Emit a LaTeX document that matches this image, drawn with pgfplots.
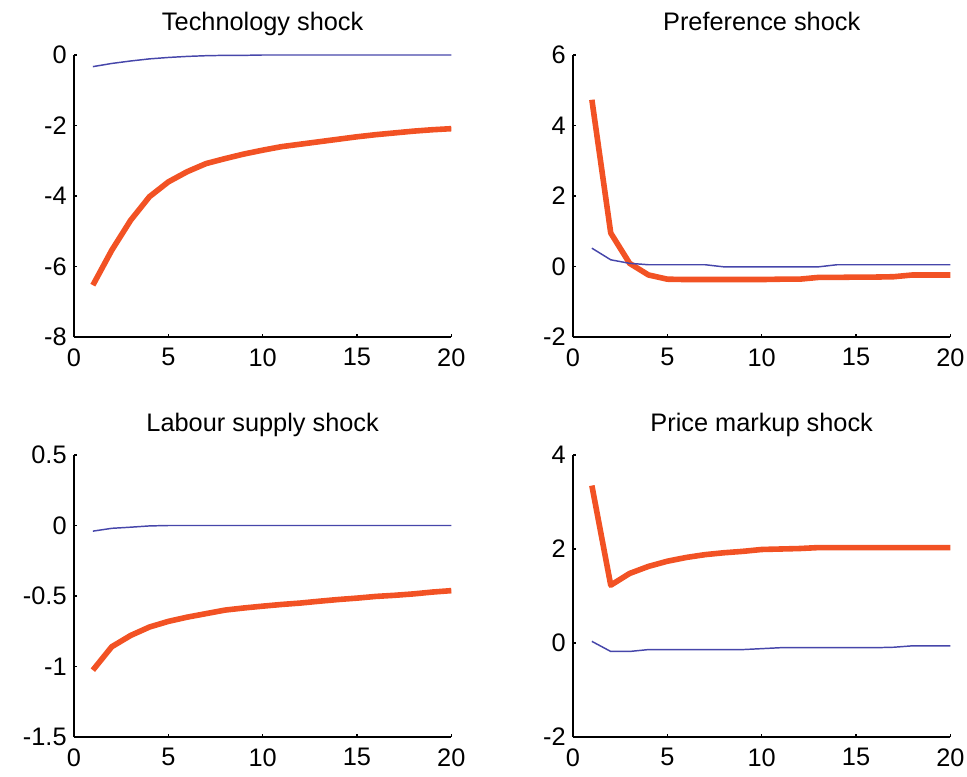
\documentclass[border=0pt]{standalone}
\usepackage{pgfplots}
\pgfplotsset{compat=1.18}
\usepackage{fontspec}
\setmainfont{Liberation Sans}
\definecolor{irfred}{RGB}{242,82,36}
\definecolor{irfblue}{RGB}{70,70,170}
\begin{document}
\begin{tikzpicture}
\useasboundingbox (0,0) rectangle (725.25pt,582pt);
\pgfplotsset{
  irf/.style={
    scale only axis, width=283pt, height=211.5pt, anchor=south west,
    xmin=0, xmax=20, xtick={0,5,10,15,20}, xticklabels={0,5,10,15,20},
    axis x line*=bottom, axis y line*=left,
    axis line style={line width=1.1pt,-},
    tick style={line width=0.9pt,black}, major tick length=2.5pt, tick align=inside,
    ticklabel style={font=\fontsize{19}{22}\selectfont},
    xticklabel style={yshift=-5pt},
    yticklabel style={xshift=-2pt},
    title style={font=\fontsize{19}{22}\selectfont, at={(0.5,1)}, anchor=base, yshift=12pt},
    clip=false,
  },
  red/.style={irfred, line width=4.2pt, line join=round},
  blue/.style={irfblue, line width=1.1pt},
}
% Technology shock
\begin{axis}[irf, at={(55.5pt,329.25pt)}, title={Technology shock},
  ymin=-8, ymax=0, ytick={-8,-6,-4,-2,0}, yticklabels={-8,-6,-4,-2,0}]
\addplot[red] coordinates {(1,-6.53) (2,-5.54) (3,-4.69) (4,-4.02) (5,-3.60) (6,-3.31) (7,-3.08) (8,-2.94) (9,-2.81) (10,-2.70) (11,-2.60) (12,-2.53) (13,-2.46) (14,-2.39) (15,-2.32) (16,-2.26) (17,-2.21) (18,-2.16) (19,-2.12) (20,-2.09)};
\addplot[blue] coordinates {(1,-0.33) (2,-0.24) (3,-0.17) (4,-0.11) (5,-0.07) (6,-0.04) (7,-0.02) (8,-0.01) (9,-0.01) (10,0) (11,0) (12,0) (13,0) (14,0) (15,0) (16,0) (17,0) (18,0) (19,0) (20,0)};
\end{axis}
% Preference shock
\begin{axis}[irf, at={(429.75pt,329.25pt)}, title={Preference shock},
  ymin=-2, ymax=6, ytick={-2,0,2,4,6}, yticklabels={-2,0,2,4,6}]
\addplot[red] coordinates {(1,4.73) (2,0.95) (3,0.09) (4,-0.24) (5,-0.36) (6,-0.37) (7,-0.37) (8,-0.37) (9,-0.37) (10,-0.37) (11,-0.36) (12,-0.36) (13,-0.31) (14,-0.31) (15,-0.30) (16,-0.30) (17,-0.29) (18,-0.24) (19,-0.24) (20,-0.24)};
\addplot[blue] coordinates {(1,0.52) (2,0.19) (3,0.09) (4,0.05) (5,0.05) (6,0.05) (7,0.05) (8,-0.01) (9,-0.01) (10,-0.01) (11,-0.01) (12,-0.01) (13,-0.01) (14,0.05) (15,0.05) (16,0.05) (17,0.05) (18,0.05) (19,0.05) (20,0.05)};
\end{axis}
% Labour supply shock
\begin{axis}[irf, at={(55.5pt,29.25pt)}, title={Labour supply shock},
  ymin=-1.5, ymax=0.5, ytick={-1.5,-1,-0.5,0,0.5}, yticklabels={-1.5,-1,-0.5,0,0.5}]
\addplot[red] coordinates {(1,-1.026) (2,-0.86) (3,-0.78) (4,-0.72) (5,-0.68) (6,-0.65) (7,-0.625) (8,-0.60) (9,-0.585) (10,-0.572) (11,-0.56) (12,-0.55) (13,-0.537) (14,-0.525) (15,-0.515) (16,-0.503) (17,-0.495) (18,-0.485) (19,-0.472) (20,-0.462)};
\addplot[blue] coordinates {(1,-0.04) (2,-0.02) (3,-0.012) (4,-0.003) (5,0) (6,0) (7,0) (8,0) (9,0) (10,0) (11,0) (12,0) (13,0) (14,0) (15,0) (16,0) (17,0) (18,0) (19,0) (20,0)};
\end{axis}
% Price markup shock
\begin{axis}[irf, at={(429.75pt,29.25pt)}, title={Price markup shock},
  ymin=-2, ymax=4, ytick={-2,0,2,4}, yticklabels={-2,0,2,4}]
\addplot[red] coordinates {(1,3.35) (2,1.23) (3,1.48) (4,1.63) (5,1.74) (6,1.82) (7,1.88) (8,1.92) (9,1.95) (10,1.99) (11,2.00) (12,2.01) (13,2.03) (14,2.03) (15,2.03) (16,2.03) (17,2.03) (18,2.03) (19,2.03) (20,2.03)};
\addplot[blue] coordinates {(1,0.035) (2,-0.18) (3,-0.18) (4,-0.14) (5,-0.14) (6,-0.14) (7,-0.14) (8,-0.14) (9,-0.14) (10,-0.12) (11,-0.10) (12,-0.10) (13,-0.10) (14,-0.10) (15,-0.10) (16,-0.10) (17,-0.09) (18,-0.06) (19,-0.06) (20,-0.06)};
\end{axis}
\end{tikzpicture}
\end{document}
